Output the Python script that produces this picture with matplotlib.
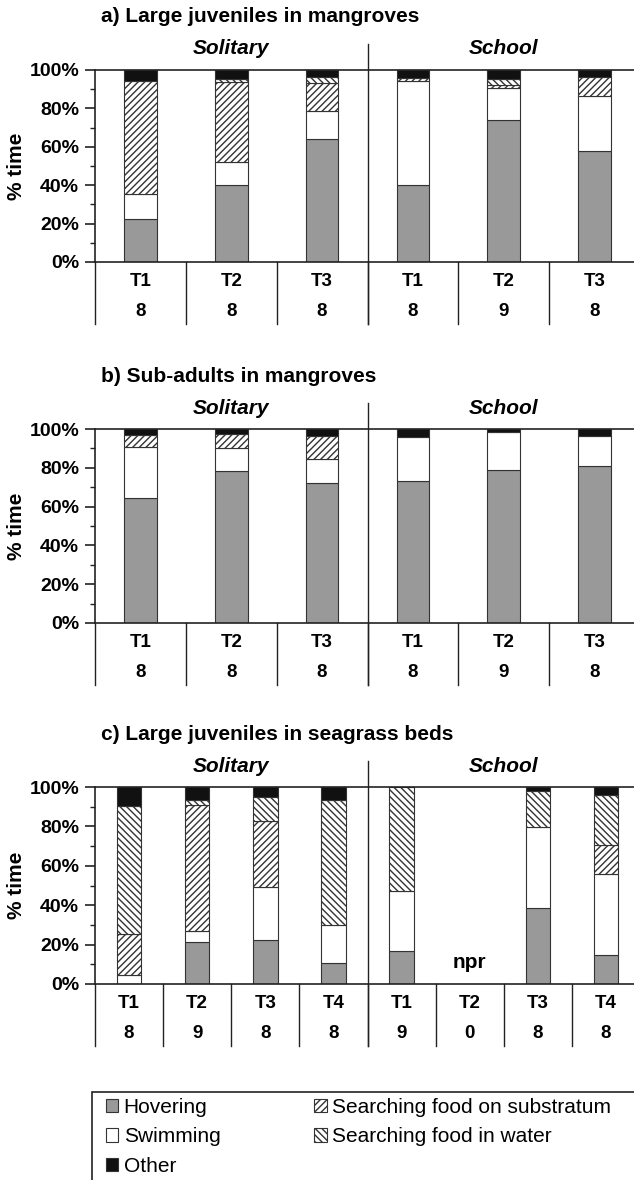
import numpy as np
import matplotlib
matplotlib.use("Agg")
import matplotlib.pyplot as plt
from matplotlib.patches import Patch, Rectangle
from matplotlib.ticker import MultipleLocator, FuncFormatter

plt.rcParams['font.family'] = ['Liberation Sans', 'DejaVu Sans']
plt.rcParams['hatch.linewidth'] = 1.0
plt.rcParams['hatch.color'] = '#333333'

# Behaviour categories, stacked bottom to top.
behaviours = ['Hovering', 'Swimming', 'Searching food on substratum',
              'Searching food in water', 'Other']
fills = ['#999999', 'white', 'white', 'white', '#111111']
hatches = [None, None, '/////', '\\\\\\\\\\', None]

groups = ['Solitary', 'School']

# a) Large juveniles in mangroves
a_times = ['T1', 'T2', 'T3', 'T1', 'T2', 'T3']
a_n = ['8', '8', '8', '8', '9', '8']
a_hover = [22.3, 39.9, 63.9, 40.2, 73.9, 57.9]
a_swim = [13.2, 12.4, 15.0, 54.1, 16.7, 28.7]
a_subs = [58.8, 41.7, 14.1, 1.7, 1.4, 9.8]
a_water = [0.0, 1.5, 3.5, 0.0, 3.1, 0.0]
a_other = [5.7, 4.5, 3.5, 4.0, 4.9, 3.6]

# b) Sub-adults in mangroves
b_times = ['T1', 'T2', 'T3', 'T1', 'T2', 'T3']
b_n = ['8', '8', '8', '8', '9', '8']
b_hover = [64.4, 78.5, 72.2, 73.4, 78.9, 81.1]
b_swim = [26.1, 11.7, 12.3, 22.3, 19.4, 15.5]
b_subs = [6.2, 7.1, 11.9, 0.0, 0.0, 0.0]
b_water = [0.0, 0.0, 0.0, 0.0, 0.0, 0.0]
b_other = [3.3, 2.7, 3.6, 4.3, 1.7, 3.4]

# c) Large juveniles in seagrass beds
c_times = ['T1', 'T2', 'T3', 'T4', 'T1', 'T2', 'T3', 'T4']
c_n = ['8', '9', '8', '8', '9', '0', '8', '8']
c_hover = [0.0, 21.5, 22.4, 10.7, 16.9, 0.0, 38.5, 14.7]
c_swim = [4.6, 5.6, 26.8, 19.3, 30.4, 0.0, 41.0, 41.2]
c_subs = [20.7, 63.9, 33.3, 0.0, 0.0, 0.0, 0.0, 14.8]
c_water = [64.9, 2.6, 12.4, 63.6, 52.7, 0.0, 18.3, 25.4]
c_other = [9.8, 6.4, 5.1, 6.4, 0.0, 0.0, 2.2, 3.9]

W, H = 634, 1180
fig = plt.figure(figsize=(W / 100, H / 100), dpi=100)

line_col = '#222222'


def panel(top_px, bot_px, title, times, n, series, n_sol, npr_idx=None):
    hpx = bot_px - top_px
    ax = fig.add_axes([95 / W, 1 - bot_px / H, 545 / W, hpx / H])
    d = lambda px: px / hpx * 100.0   # pixels -> data units

    ncat = len(times)
    x = np.arange(ncat) + 0.5
    bottom = np.zeros(ncat)
    for vals, fc, h in zip(series, fills, hatches):
        vals = np.asarray(vals, float)
        m = vals > 0
        ax.bar(x[m], vals[m], 0.36, bottom=bottom[m], color=fc, hatch=h,
               edgecolor='#333333', linewidth=0.8, zorder=2)
        bottom += vals

    ax.set_xlim(0, ncat)
    ax.set_ylim(0, 100)
    ax.set_xticks([])
    ax.yaxis.set_major_locator(MultipleLocator(20))
    ax.yaxis.set_minor_locator(MultipleLocator(10))
    ax.yaxis.set_major_formatter(FuncFormatter(lambda v, p: f'{v:.0f}%'))
    ax.tick_params(axis='y', which='major', length=7, width=1.2,
                   labelsize=14, pad=4.5, color=line_col)
    ax.tick_params(axis='y', which='minor', length=3.5, width=1.0, color=line_col)
    for lab in ax.get_yticklabels():
        lab.set_fontweight('bold')
    ax.spines['right'].set_visible(False)
    for s in ['top', 'left', 'bottom']:
        ax.spines[s].set_linewidth(1.2)
        ax.spines[s].set_color(line_col)
    fig.text(17 / W, 1 - (top_px + bot_px) / 2 / H, '% time', rotation=90,
             ha='center', va='center', fontsize=15, fontweight='bold')

    # category table below the axis
    for b in range(ncat + 1):
        ax.plot([b, b], [0, -d(62)], color=line_col, lw=1.0, clip_on=False)
    for i in range(ncat):
        ax.text(x[i], -d(20), times[i], ha='center', va='center',
                fontsize=13.5, fontweight='bold')
        ax.text(x[i], -d(50), n[i], ha='center', va='center',
                fontsize=13.5, fontweight='bold')

    # group divider and labels
    ax.plot([n_sol, n_sol], [-d(62), 100 + d(26)], color=line_col, lw=1.0,
            clip_on=False)
    ax.text(n_sol / 2, 100 + d(21), groups[0], ha='center', va='center',
            fontsize=15, fontweight='bold', style='italic')
    ax.text((n_sol + ncat) / 2, 100 + d(21), groups[1], ha='center',
            va='center', fontsize=15, fontweight='bold', style='italic')

    fig.text(101 / W, 1 - (top_px - 53) / H, title, ha='left', va='center',
             fontsize=15, fontweight='bold')

    if npr_idx is not None:
        ax.text(x[npr_idx], d(21), 'npr', ha='center', va='center',
                fontsize=15, fontweight='bold')
    return ax


panel(70, 262, 'a) Large juveniles in mangroves', a_times, a_n,
      [a_hover, a_swim, a_subs, a_water, a_other], 3)
panel(429, 623, 'b) Sub-adults in mangroves', b_times, b_n,
      [b_hover, b_swim, b_subs, b_water, b_other], 3)
panel(787, 984, 'c) Large juveniles in seagrass beds', c_times, c_n,
      [c_hover, c_swim, c_subs, c_water, c_other], 4, npr_idx=5)

# legend: first column Hovering / Swimming / Other, second the two searches
order = [0, 1, 4, 2, 3]
handles = [Patch(facecolor=fills[i], edgecolor='#333333', hatch=hatches[i],
                 linewidth=0.8) for i in order]
fig.legend(handles, [behaviours[i] for i in order], loc='upper left',
           bbox_to_anchor=(106 / W, 1 - 1098 / H), ncol=2, frameon=False,
           fontsize=15, borderpad=0, borderaxespad=0, handlelength=0.6,
           handleheight=0.6, handletextpad=0.25, labelspacing=0.5,
           columnspacing=4.5)
fig.patches.append(Rectangle((92 / W, -0.05), 1.0, 0.05 + 1 - 1092 / H,
                             transform=fig.transFigure, fill=False,
                             edgecolor=line_col, linewidth=1.2))

fig.savefig('out.png', dpi=100)
